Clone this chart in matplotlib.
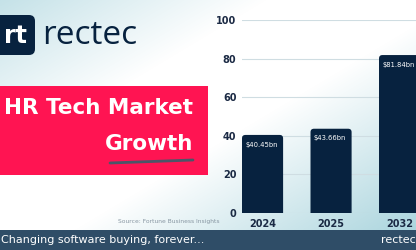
import matplotlib.pyplot as plt
import numpy as np
from matplotlib.patches import FancyBboxPatch, Rectangle

years = ["2024", "2025", "2032"]
market = [40.45, 43.66, 81.84]
bar_labels = ["$40.45bn", "$43.66bn", "$81.84bn"]
yticks = [0, 20, 40, 60, 80, 100]

navy = "#07223f"
pink = "#ff1452"

fig = plt.figure(figsize=(4.16, 2.5), dpi=100)

# background gradient: teal top-left, white middle, teal bottom-right
bg = fig.add_axes([0, 0, 1, 1])
h, w = 250, 416
xx, yy = np.meshgrid(np.linspace(0, 1, w), np.linspace(0, 1, h))
u = (xx + yy) / 2
wgt = np.clip((0.32 - u) / 0.32, 0, 1) * 0.6 + np.clip((u - 0.55) / 0.45, 0, 1) * 0.95
teal = np.array([0.62, 0.81, 0.85])
white = np.array([1.0, 1.0, 1.0])
img = white[None, None, :] * (1 - wgt[..., None]) + teal[None, None, :] * wgt[..., None]
bg.imshow(img, extent=[0, w, h, 0], aspect="auto")
bg.set_xlim(0, w)
bg.set_ylim(h, 0)
bg.axis("off")

# logo
bg.add_patch(FancyBboxPatch((-8, 15), 43, 40, boxstyle="round,pad=0,rounding_size=6",
                            fc=navy, ec="none"))
bg.text(15, 36, "rt", color="white", fontsize=17, fontweight="bold", ha="center", va="center")
bg.text(42, 36, "rectec", color=navy, fontsize=24, ha="left", va="center", family="Open Sans")

# pink title box
bg.add_patch(Rectangle((0, 86), 208, 89, fc=pink, ec="none"))
bg.text(193, 108, "HR Tech Market", color="white", fontsize=15.5, fontweight="bold",
        ha="right", va="center")
bg.text(193, 144, "Growth", color="white", fontsize=15.5, fontweight="bold",
        ha="right", va="center")
bg.plot([110, 193], [163, 160], color="#4b5568", lw=2, solid_capstyle="round")

# source
bg.text(219, 222, "Source: Fortune Business Insights", color="#8796a2", fontsize=4.3,
        ha="right", va="center")

# bottom band
bg.add_patch(Rectangle((0, 230), w, 20, fc="#2f4d67", ec="none"))
bg.text(1, 240, "Changing software buying, forever...", color="white", fontsize=8,
        ha="left", va="center")
bg.text(381, 240, "rectec", color="white", fontsize=8, ha="left", va="center")

# chart
ax = fig.add_axes([242 / 416, 37 / 250, 174 / 416, 193 / 250])
ax.patch.set_alpha(0)
x = np.arange(len(years))
bars = ax.bar(x, market, width=0.6, color=navy, zorder=3)
ax.set_xlim(-0.3, 2.24)
ax.set_ylim(0, 100)
xpx = 174 / 2.54
ypx = 193 / 100
for b, lab in zip(bars, bar_labels):
    b.set_visible(False)
    x0, wd, top = b.get_x(), b.get_width(), b.get_height()
    p = FancyBboxPatch((x0, -5), wd, top + 5, boxstyle="round,pad=0,rounding_size=0.05",
                       mutation_aspect=xpx / ypx, fc=navy, ec="none", zorder=3)
    ax.add_patch(p)
    ax.text(x0 + 0.05, top - 5, lab, color="white", fontsize=4.9, ha="left",
            va="center", zorder=4)

ax.set_yticks(yticks)
ax.set_xticks(x)
ax.set_xticklabels(years)
ax.tick_params(length=0, labelsize=7, labelcolor="#1b2a44", pad=4)
for t in ax.get_xticklabels() + ax.get_yticklabels():
    t.set_fontweight("bold")
ax.grid(axis="y", color="#cfdde2", lw=0.8, zorder=0)
for s in ax.spines.values():
    s.set_visible(False)

fig.savefig("out.png", dpi=100)
